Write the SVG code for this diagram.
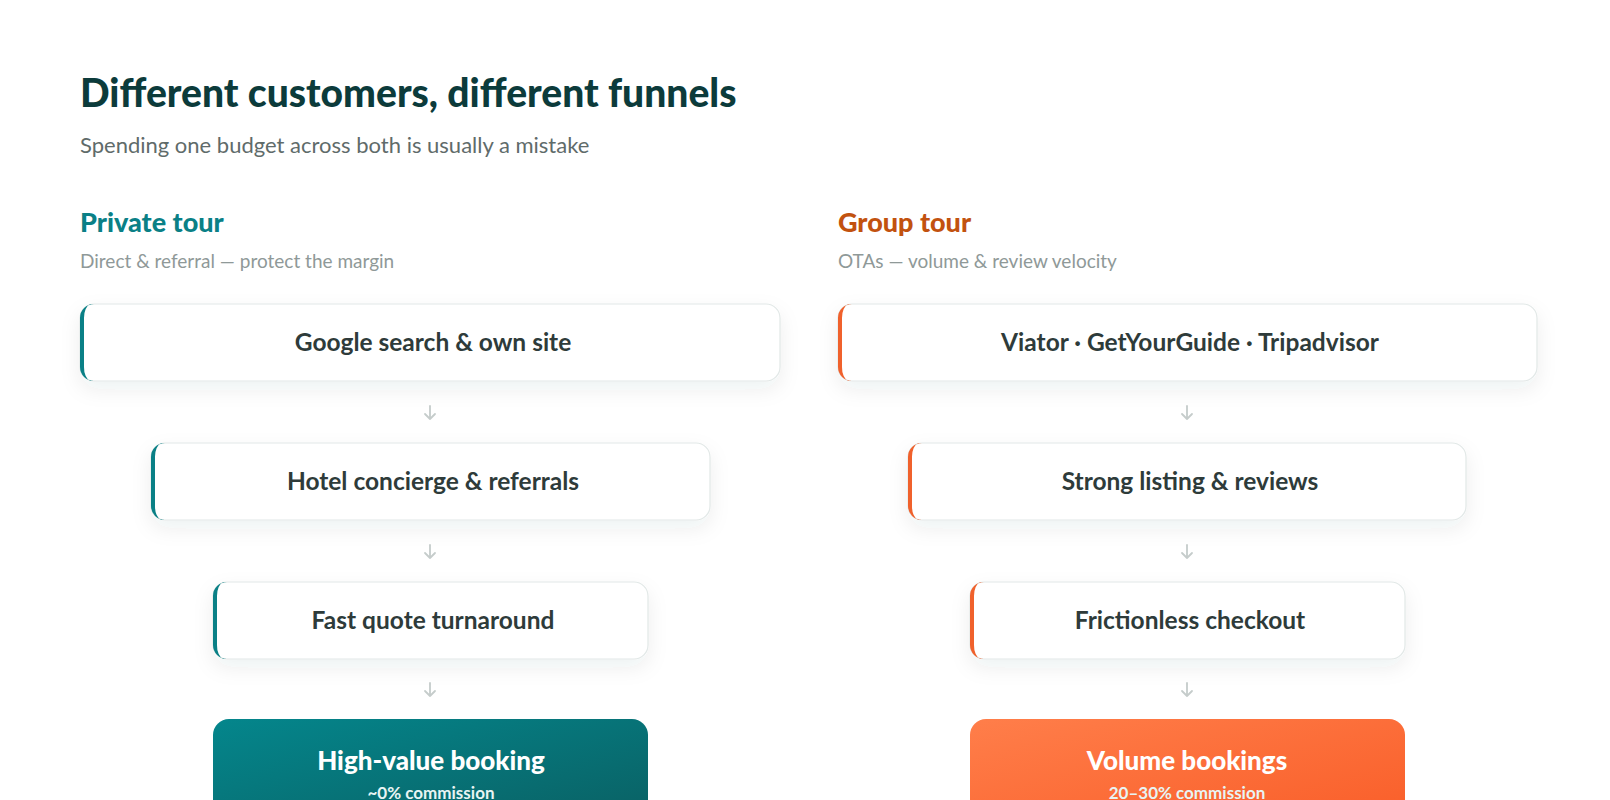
<svg xmlns="http://www.w3.org/2000/svg" width="1610" height="800" viewBox="0 0 1610 800">
<defs>
<style>
text{font-family:Lato,"Noto Sans",sans-serif}
.title{font-size:39px;font-weight:900;fill:#0c3b3b}
.sub{font-size:22px;fill:#5f6b6a}
.colh{font-size:27px;font-weight:900}
.cols{font-size:19px;fill:#8f9998}
.card{fill:#fff;stroke:#e2e8e7;stroke-width:1.2;filter:url(#sh)}
.lbl{font-size:24.5px;font-weight:700;fill:#2e3b3a;text-anchor:middle}
.arr{stroke:#c5cccb;stroke-width:1.8;fill:none;stroke-linecap:round;stroke-linejoin:round}
.big{font-size:26px;font-weight:900;fill:#fff;text-anchor:middle}
.small{font-size:17px;font-weight:700;fill:#e8f4f3;text-anchor:middle}
</style>
<filter id="sh" x="-10%" y="-30%" width="120%" height="180%"><feDropShadow dx="0" dy="8" stdDeviation="10" flood-color="#0c3b3b" flood-opacity="0.07"/></filter>
<linearGradient id="gT" x1="0" y1="0" x2="1" y2="1"><stop offset="0" stop-color="#04868c"/><stop offset="1" stop-color="#0a5f62"/></linearGradient>
<linearGradient id="gO" x1="0" y1="0" x2="1" y2="1"><stop offset="0" stop-color="#ff7e4a"/><stop offset="1" stop-color="#f95d28"/></linearGradient>
</defs>
<rect width="1610" height="800" fill="#fff"/>
<text class="title" x="80" y="107">Different customers, different funnels</text>
<text class="sub" x="80" y="153">Spending one budget across both is usually a mistake</text>
<text class="colh" x="80" y="232" fill="#0a8086">Private tour</text>
<text class="cols" x="80" y="268">Direct &amp; referral — protect the margin</text>
<text class="colh" x="838" y="232" fill="#c2520f">Group tour</text>
<text class="cols" x="838" y="268">OTAs — volume &amp; review velocity</text>
<g id="connectors">
<path class="arr" d="M430 406v13M425 414l5 5 5-5"/>
<path class="arr" d="M430 545v13M425 553l5 5 5-5"/>
<path class="arr" d="M430 683v13M425 691l5 5 5-5"/>
<path class="arr" d="M1187 406v13M1182 414l5 5 5-5"/>
<path class="arr" d="M1187 545v13M1182 553l5 5 5-5"/>
<path class="arr" d="M1187 683v13M1182 691l5 5 5-5"/>
</g>
<g id="p1"><rect class="card" x="80" y="304" width="700" height="77" rx="14"/><path d="M94 304a14 14 0 0 0-14 14v49a14 14 0 0 0 14 14h-4a8 14 0 0 1-6-14v-49a8 14 0 0 1 6-14z" fill="#0a8086"/><text class="lbl" x="433" y="351">Google search &amp; own site</text></g>
<g id="p2"><rect class="card" x="151" y="443" width="559" height="77" rx="14"/><path d="M165 443a14 14 0 0 0-14 14v49a14 14 0 0 0 14 14h-4a8 14 0 0 1-6-14v-49a8 14 0 0 1 6-14z" fill="#0a8086"/><text class="lbl" x="433" y="490">Hotel concierge &amp; referrals</text></g>
<g id="p3"><rect class="card" x="213" y="582" width="435" height="77" rx="14"/><path d="M227 582a14 14 0 0 0-14 14v49a14 14 0 0 0 14 14h-4a8 14 0 0 1-6-14v-49a8 14 0 0 1 6-14z" fill="#0a8086"/><text class="lbl" x="433" y="629">Fast quote turnaround</text></g>
<g id="p4"><rect x="213" y="719" width="435" height="110" rx="16" fill="url(#gT)"/><text class="big" x="431" y="770">High-value booking</text><text class="small" x="431" y="799">~0% commission</text></g>
<g id="g1"><rect class="card" x="838" y="304" width="699" height="77" rx="14"/><path d="M852 304a14 14 0 0 0-14 14v49a14 14 0 0 0 14 14h-4a8 14 0 0 1-6-14v-49a8 14 0 0 1 6-14z" fill="#f0612c"/><text class="lbl" x="1190" y="351">Viator · GetYourGuide · Tripadvisor</text></g>
<g id="g2"><rect class="card" x="908" y="443" width="558" height="77" rx="14"/><path d="M922 443a14 14 0 0 0-14 14v49a14 14 0 0 0 14 14h-4a8 14 0 0 1-6-14v-49a8 14 0 0 1 6-14z" fill="#f0612c"/><text class="lbl" x="1190" y="490">Strong listing &amp; reviews</text></g>
<g id="g3"><rect class="card" x="970" y="582" width="435" height="77" rx="14"/><path d="M984 582a14 14 0 0 0-14 14v49a14 14 0 0 0 14 14h-4a8 14 0 0 1-6-14v-49a8 14 0 0 1 6-14z" fill="#f0612c"/><text class="lbl" x="1190" y="629">Frictionless checkout</text></g>
<g id="g4"><rect x="970" y="719" width="435" height="110" rx="16" fill="url(#gO)"/><text class="big" x="1187" y="770">Volume bookings</text><text class="small" x="1187" y="799" fill="#fff3ec">20–30% commission</text></g>
</svg>
